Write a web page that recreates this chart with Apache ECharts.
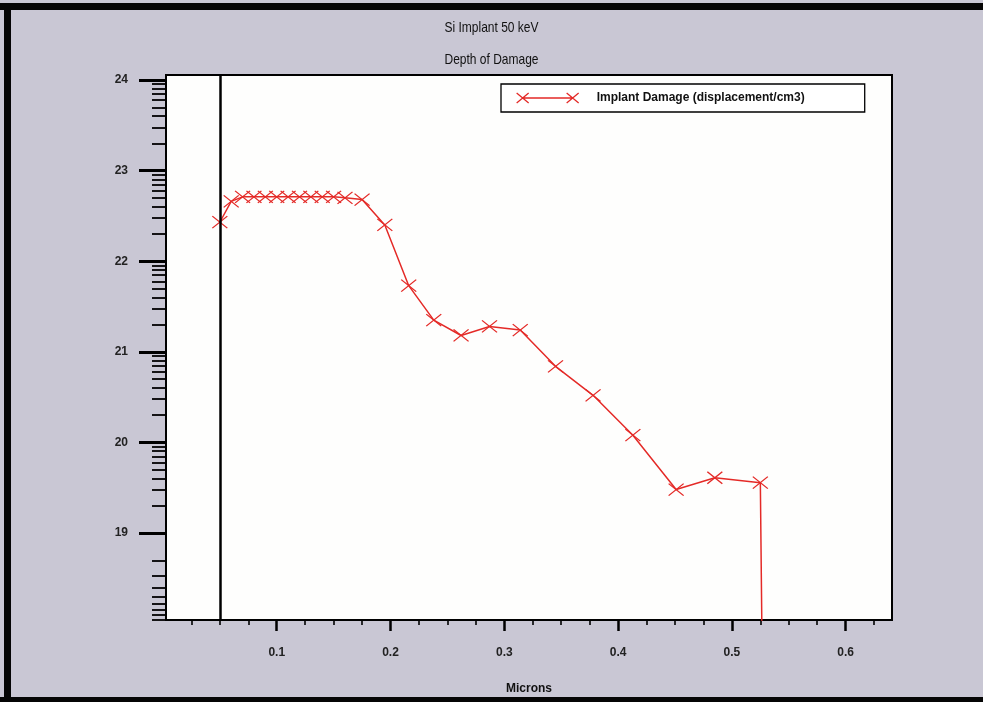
<!DOCTYPE html>
<html>
<head>
<meta charset="utf-8">
<script src="https://cdn.jsdelivr.net/npm/echarts@6/dist/echarts.min.js"></script>
<style>
  html, body { margin: 0; padding: 0; background: #ffffff; }
  #chart { width: 983px; height: 702px; }
</style>
</head>
<body>
<div id="chart"></div>
<script>
// ---- text ----
const titleMain = 'Si Implant 50 keV';
const titleSub = 'Depth of Damage';
const seriesName = 'Implant Damage (displacement/cm3)';
const xAxisName = 'Microns';

// ---- data: depth (microns) and log10 of damage (displacement/cm3) ----
const depth = [0.05, 0.06, 0.07, 0.08, 0.09, 0.10, 0.11, 0.12, 0.13, 0.14, 0.15, 0.16,
               0.175, 0.195, 0.216, 0.238, 0.262, 0.287, 0.314, 0.345, 0.378, 0.413,
               0.451, 0.485, 0.525, 0.528];
const damage = [22.43, 22.66, 22.71, 22.71, 22.71, 22.71, 22.71, 22.71, 22.71, 22.71, 22.71, 22.70,
                22.68, 22.40, 21.73, 21.35, 21.18, 21.28, 21.24, 20.84, 20.52, 20.08,
                19.48, 19.61, 19.555, 16.0];

// surface marker depth
const surfaceDepth = 0.05;

// ---- axes ----
const xMin = 0.0027, xMax = 0.6407;
const xMajor = [0.1, 0.2, 0.3, 0.4, 0.5, 0.6];
const xMinor = [0.025, 0.05, 0.075, 0.125, 0.15, 0.175, 0.225, 0.25, 0.275, 0.325, 0.35, 0.375,
                0.425, 0.45, 0.475, 0.525, 0.55, 0.575, 0.625];
const yMin = 18.04, yMax = 24.055;
const yMajor = [19, 20, 21, 22, 23, 24];
// log-decade minor ticks
const yMinor = [];
for (let d = 19; d < 24; d++) {
  for (let k = 2; k <= 9; k++) yMinor.push(d + Math.log10(k));
}
for (let k = 2; k <= 9; k++) yMinor.push(19 - Math.log10(k));

const red = '#e42a27';
const sans = '"Liberation Sans", Arial, sans-serif';

const chart = echarts.init(document.getElementById('chart'), null, { renderer: 'canvas' });

// condensed heading text
function heading(text, y) {
  return {
    type: 'text', silent: true, x: 491.5, y: y, scaleX: 0.8,
    style: { text: text, fill: '#111', font: '15px ' + sans, align: 'center', verticalAlign: 'middle' }
  };
}

chart.setOption({
  backgroundColor: '#c9c7d4',
  animation: false,
  graphic: [
    { type: 'rect', silent: true, shape: { x: 0, y: 3, width: 983, height: 7 }, style: { fill: '#050505' } },
    { type: 'rect', silent: true, shape: { x: 4, y: 3, width: 7, height: 699 }, style: { fill: '#050505' } },
    { type: 'rect', silent: true, shape: { x: 0, y: 697, width: 983, height: 5 }, style: { fill: '#050505' } },
    heading(titleMain, 28),
    heading(titleSub, 60)
  ],
  legend: {
    data: [seriesName],
    left: 501, top: 84,
    padding: [8, 60, 8, 15],
    itemWidth: 62, itemHeight: 10,
    icon: 'path://M0,0L12,10M12,0L0,10M6,5L56,5M50,0L62,10M62,0L50,10',
    itemStyle: { color: 'rgba(0,0,0,0)', borderColor: red, borderWidth: 1.3 },
    textStyle: { fontFamily: sans, fontSize: 12, fontWeight: 'bold', color: '#111', padding: [0, 0, 0, 13] },
    backgroundColor: '#ffffff',
    borderColor: '#000', borderWidth: 1.3, borderRadius: 0
  },
  grid: {
    left: 166, top: 75, right: 91, bottom: 82,
    show: true, backgroundColor: '#fefefd', borderColor: '#000', borderWidth: 2
  },
  xAxis: [
    {
      type: 'value', min: xMin, max: xMax, position: 'bottom',
      name: xAxisName, nameLocation: 'middle', nameGap: 63,
      nameTextStyle: { fontFamily: sans, fontSize: 12, fontWeight: 'bold', color: '#111' },
      axisLine: { lineStyle: { color: '#000', width: 2 } },
      axisTick: { customValues: xMajor, length: 11, lineStyle: { color: '#000', width: 2.5 } },
      axisLabel: { customValues: xMajor, margin: 27, formatter: v => v.toFixed(1),
                   fontFamily: sans, fontSize: 12, fontWeight: 'bold', color: '#222' },
      splitLine: { show: false }
    },
    {
      type: 'value', min: xMin, max: xMax, position: 'bottom',
      axisLine: { show: false },
      axisTick: { customValues: xMinor, length: 5, lineStyle: { color: '#000', width: 1.6 } },
      axisLabel: { show: false },
      splitLine: { show: false }
    }
  ],
  yAxis: [
    {
      type: 'value', min: yMin, max: yMax, position: 'left',
      axisLine: { show: true, lineStyle: { color: '#000', width: 2 } },
      axisTick: { customValues: yMajor, length: 27, lineStyle: { color: '#000', width: 3 } },
      axisLabel: { customValues: yMajor, margin: 38, formatter: v => String(v),
                   fontFamily: sans, fontSize: 12, fontWeight: 'bold', color: '#222' },
      splitLine: { show: false }
    },
    {
      type: 'value', min: yMin, max: yMax, position: 'left',
      axisLine: { show: false },
      axisTick: { customValues: yMinor, length: 14, lineStyle: { color: '#000', width: 1.8 } },
      axisLabel: { show: false },
      splitLine: { show: false }
    }
  ],
  series: [
    {
      name: seriesName,
      type: 'line',
      xAxisIndex: 0, yAxisIndex: 0,
      data: depth.map((d, i) => [d, damage[i]]),
      clip: true,
      symbol: 'path://M0,0L10,10M10,0L0,10',
      symbolSize: [15, 12],
      itemStyle: { color: red, borderColor: red, borderWidth: 1.2 },
      lineStyle: { color: red, width: 1.5 },
      markLine: {
        silent: true, symbol: 'none', animation: false,
        label: { show: false },
        lineStyle: { color: '#000', width: 2.5, type: 'solid' },
        data: [{ xAxis: surfaceDepth }]
      }
    }
  ]
});
</script>
</body>
</html>
